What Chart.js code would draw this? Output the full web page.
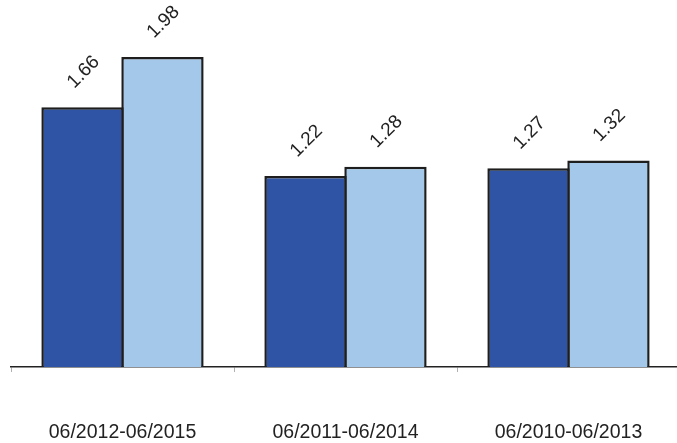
<!DOCTYPE html>
<html>
<head>
<meta charset="utf-8">
<script src="https://cdn.jsdelivr.net/npm/chart.js@4"></script>
<style>
  html, body { margin: 0; padding: 0; background: #fff; overflow: hidden; }
  #wrap { width: 680px; height: 443px; }
</style>
</head>
<body>
<div id="wrap"><canvas id="barChart"></canvas></div>
<script>
// periods on the x axis
const periods = ['06/2012-06/2015', '06/2011-06/2014', '06/2010-06/2013'];
// two series per period
const seriesA = [1.66, 1.22, 1.27];
const seriesB = [1.98, 1.28, 1.32];

const FONT = '"Liberation Sans", Arial, sans-serif';

// writes each bar value rotated above the bar
const valueLabels = {
    id: 'valueLabels',
    afterDatasetsDraw (chart) {
        const ctx = chart.ctx;
        ctx.save();
        ctx.font = '19px ' + FONT;
        ctx.fillStyle = '#222';
        ctx.textAlign = 'center';
        ctx.textBaseline = 'middle';
        chart.data.datasets.forEach(function (ds, i) {
            chart.getDatasetMeta(i).data.forEach(function (bar, j) {
                ctx.save();
                ctx.translate(bar.x + 1, bar.y - 35);
                ctx.rotate(-Math.PI / 4);
                ctx.fillText(ds.data[j].toFixed(2), 0, 0);
                ctx.restore();
            });
        });
        ctx.restore();
    }
};

const data = {
    labels: periods,
    datasets: [
        {
            data: seriesA,
            backgroundColor: '#2f54a5',
            borderColor: '#1e1e1e',
            borderWidth: 2.5
        },
        {
            data: seriesB,
            backgroundColor: '#a3c8ea',
            borderColor: '#1e1e1e',
            borderWidth: 2.5
        }
    ]
};

const config = {
    type: 'bar',
    data: data,
    options: {
        responsive: true,
        maintainAspectRatio: false,
        animation: false,
        layout: {
            padding: { top: 7, left: 11, right: 0, bottom: 0 }
        },
        datasets: {
            bar: {
                // bars slightly wider than their slot so the pair shares one edge
                categoryPercentage: 0.717,
                barPercentage: 1.03
            }
        },
        plugins: {
            legend: { display: false },
            tooltip: { enabled: false }
        },
        scales: {
            y: {
                display: false,
                min: 0,
                max: 2.3
            },
            x: {
                // fixed band below the bars, no side padding for the labels
                afterFit (scale) {
                    scale.height = 76;
                    scale.paddingLeft = 0;
                    scale.paddingRight = 0;
                },
                border: { display: true, color: '#222', width: 1.5 },
                grid: {
                    drawOnChartArea: false,
                    drawTicks: true,
                    tickLength: 5,
                    color: '#b0b0b0'
                },
                ticks: {
                    padding: 49,
                    color: '#222',
                    maxRotation: 0,
                    font: { family: FONT, size: 19.5 }
                }
            }
        }
    },
    plugins: [valueLabels]
};

const myChart = new Chart(document.getElementById('barChart'), config);
</script>
</body>
</html>
